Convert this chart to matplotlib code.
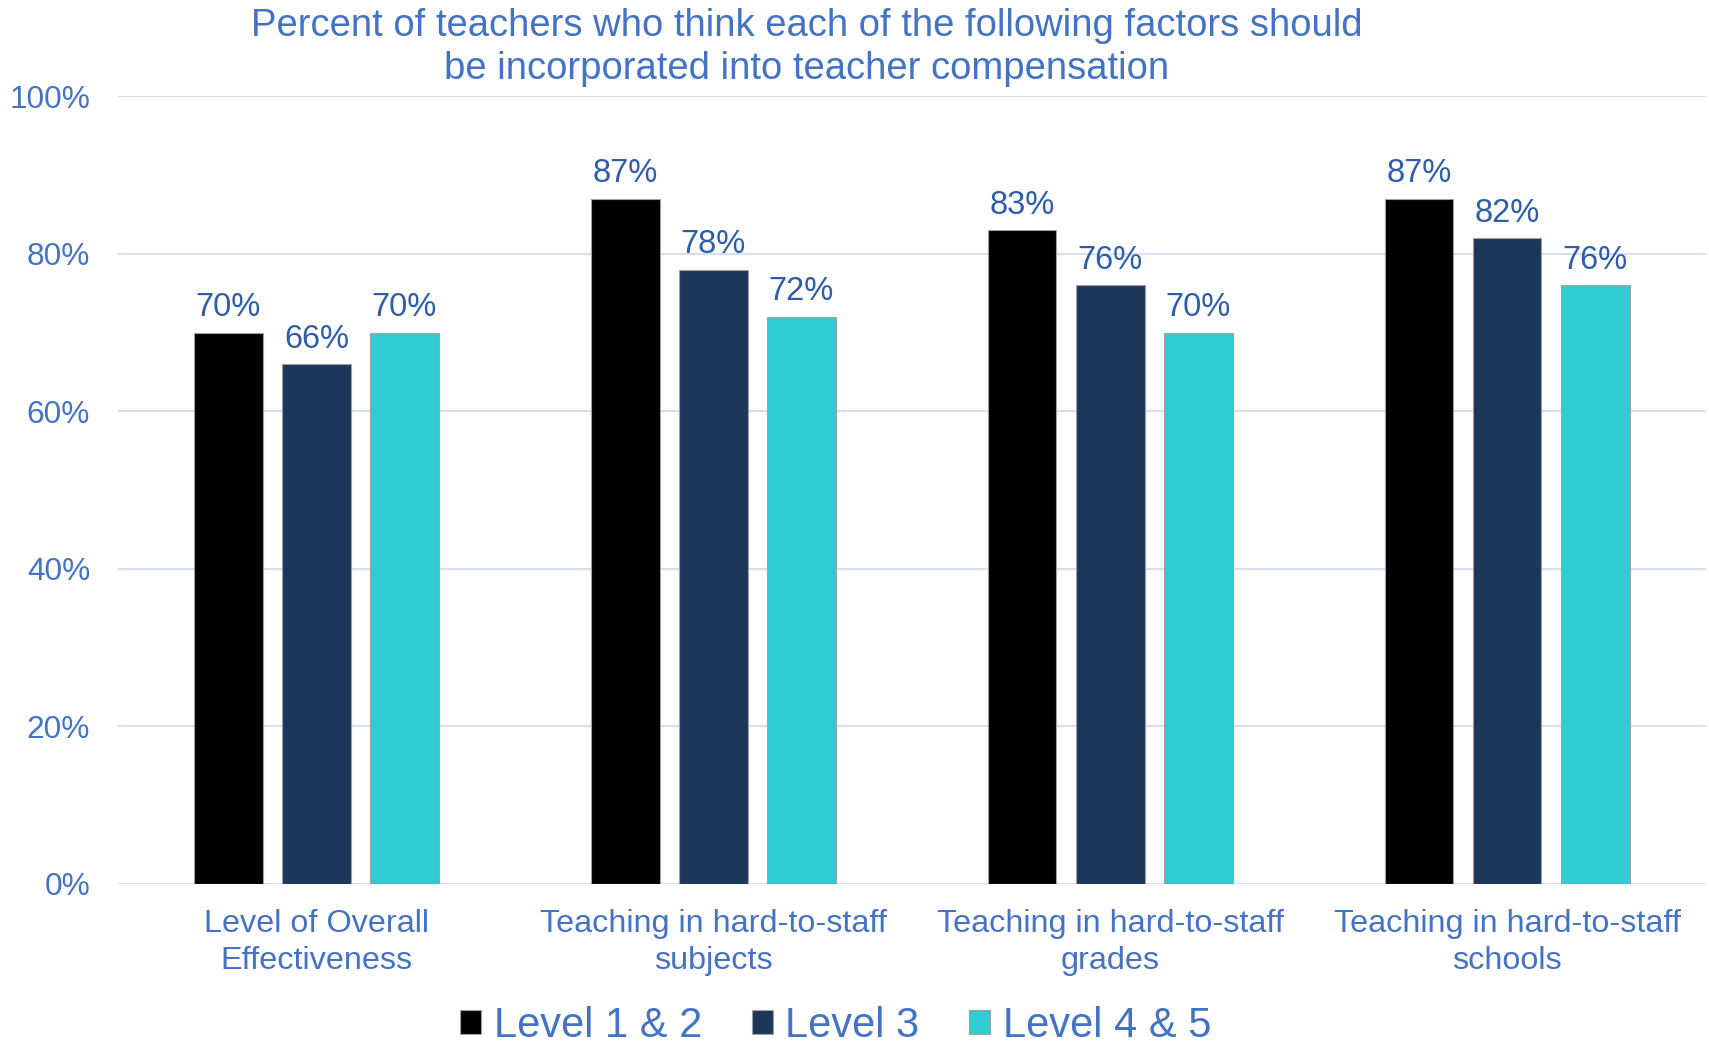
import matplotlib
matplotlib.use("Agg")
import matplotlib.pyplot as plt
import numpy as np

categories = ["Level of Overall\nEffectiveness",
              "Teaching in hard-to-staff\nsubjects",
              "Teaching in hard-to-staff\ngrades",
              "Teaching in hard-to-staff\nschools"]
series_names = ["Level 1 & 2", "Level 3", "Level 4 & 5"]
level_1_2 = [70, 87, 83, 87]
level_3 = [66, 78, 76, 82]
level_4_5 = [70, 72, 70, 76]
y_ticks = [0, 20, 40, 60, 80, 100]
title = ("Percent of teachers who think each of the following factors should\n"
         "be incorporated into teacher compensation")

colors = ["#000000", "#1C365C", "#2ECCD2"]
text_blue = "#4472C4"
label_blue = "#2F5DAA"
grid_color = "#D6E0F0"

plt.rcParams["font.family"] = ["Liberation Sans", "DejaVu Sans"]

fig = plt.figure(figsize=(17.09, 10.48), dpi=100)
ax = fig.add_axes([0.069, 0.1565, 0.929, 0.7515])

x = np.arange(len(categories))
width = 0.173
step = 0.222
for i, (vals, name) in enumerate(zip([level_1_2, level_3, level_4_5], series_names)):
    pos = x + (i - 1) * step
    bars = ax.bar(pos, vals, width, color=colors[i], label=name,
                  edgecolor="#A0A0A0", linewidth=0.8, zorder=3)
    for b, v in zip(bars, vals):
        ax.text(b.get_x() + b.get_width() / 2, v + 1.2, f"{v}%",
                ha="center", va="bottom", fontsize=23.5, color=label_blue)

ax.set_xlim(-0.5, len(categories) - 0.5)
ax.set_ylim(0, 100)
ax.set_yticks(y_ticks)
ax.set_yticklabels([f"{t}%" for t in y_ticks], fontsize=22.8, color=text_blue)
ax.set_xticks(x)
ax.set_xticklabels(categories, fontsize=23.3, color=text_blue, linespacing=1.3)
ax.tick_params(axis="both", length=0)
ax.tick_params(axis="y", pad=20)
ax.tick_params(axis="x", pad=18)
ax.yaxis.grid(True, color=grid_color, linewidth=1.5, zorder=0)
for s in ax.spines.values():
    s.set_visible(False)

fig.text(0.472, 0.9545, title, ha="center", va="center", fontsize=27.5,
         color=text_blue, linespacing=1.27)

leg = fig.legend(loc="center", bbox_to_anchor=(0.489, 0.021), ncol=3,
                 frameon=False, fontsize=30, handlelength=0.5, handleheight=0.5,
                 handletextpad=0.3, columnspacing=1.2, borderpad=0.1)
for t in leg.get_texts():
    t.set_color(text_blue)

fig.savefig("out.png", dpi=100, facecolor="white")
